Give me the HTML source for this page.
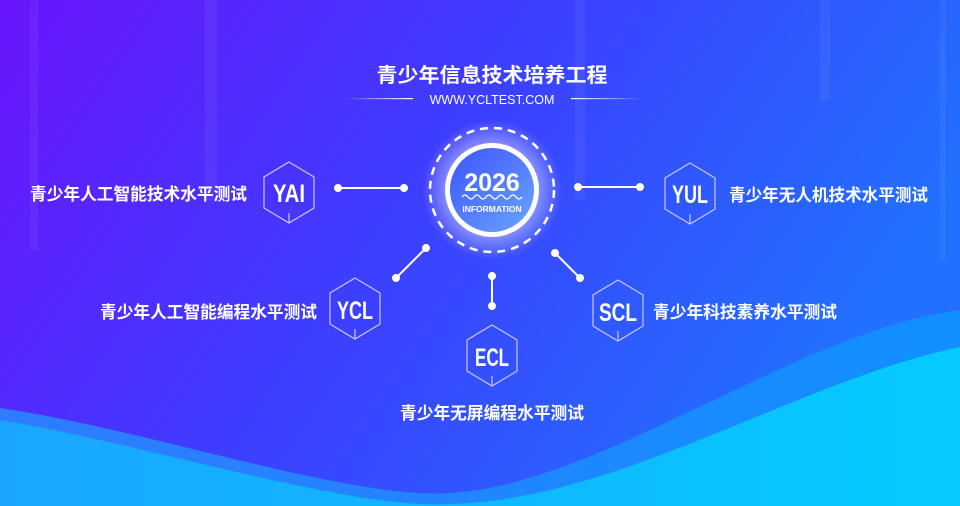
<!DOCTYPE html>
<html><head><meta charset="utf-8"><style>
html,body{margin:0;padding:0;width:960px;height:506px;overflow:hidden}
svg{display:block}
text{font-family:"Liberation Sans","Noto Sans CJK SC",sans-serif;fill:#fff}
</style></head><body>
<svg width="960" height="506" viewBox="0 0 960 506" xmlns="http://www.w3.org/2000/svg">
<defs>
<linearGradient id="bg" x1="0" y1="0" x2="1" y2="0.35">
<stop offset="0" stop-color="#6a14fb"/><stop offset="0.5" stop-color="#3d3eff"/><stop offset="1" stop-color="#2270ff"/>
</linearGradient>
<linearGradient id="w1" x1="0" y1="0" x2="1" y2="0">
<stop offset="0" stop-color="#2f7cff"/><stop offset="1" stop-color="#1190ff"/>
</linearGradient>
<linearGradient id="w2" x1="0" y1="0" x2="1" y2="0">
<stop offset="0" stop-color="#1aa6ff"/><stop offset="1" stop-color="#04cbff"/>
</linearGradient>
<radialGradient id="glow" cx="0.5" cy="0.5" r="0.5">
<stop offset="0.6" stop-color="#ffffff" stop-opacity="0.45"/><stop offset="1" stop-color="#ffffff" stop-opacity="0"/>
</radialGradient>
<linearGradient id="inner" x1="0" y1="0" x2="1" y2="1">
<stop offset="0" stop-color="#3d52ff"/><stop offset="1" stop-color="#6aa6ff"/>
</linearGradient>
<linearGradient id="ll" x1="0" x2="1"><stop offset="0" stop-color="#fff" stop-opacity="0"/><stop offset="1" stop-color="#fff"/></linearGradient>
<linearGradient id="lr" x1="0" x2="1"><stop offset="0" stop-color="#fff"/><stop offset="1" stop-color="#fff" stop-opacity="0"/></linearGradient>
</defs>
<rect width="960" height="506" fill="url(#bg)"/>
<g fill="#fff" opacity="0.05">
<rect x="205" y="0" width="12" height="200"/><rect x="575" y="0" width="10" height="200"/><rect x="820" y="0" width="10" height="100"/><rect x="30" y="0" width="8" height="250"/><rect x="940" y="0" width="6" height="260"/>
</g>
<path d="M0,408 C150,430 350,500 450,493 C600,485 800,330 960,310 L960,506 L0,506Z" fill="url(#w1)"/>
<path d="M0,420 C150,445 350,510 450,504 C620,500 800,380 960,347 L960,506 L0,506Z" fill="url(#w2)"/>
<text x="492" y="82" font-size="20" font-weight="bold" text-anchor="middle" textLength="231" lengthAdjust="spacingAndGlyphs">青少年信息技术培养工程</text>
<text x="492" y="104" font-size="12.5" text-anchor="middle">WWW.YCLTEST.COM</text>
<rect x="345" y="98" width="68" height="1.2" fill="url(#ll)"/>
<rect x="571" y="98" width="72" height="1.2" fill="url(#lr)"/>
<circle cx="492" cy="190" r="70" fill="url(#glow)"/>
<circle cx="492" cy="190" r="62" fill="none" stroke="#fff" stroke-width="2.5" stroke-dasharray="8 6"/>
<circle cx="492" cy="190" r="47" fill="#fff"/>
<circle cx="492" cy="190" r="42" fill="url(#inner)"/>
<text x="492" y="191" font-size="25" font-weight="bold" text-anchor="middle">2026</text>
<path d="M462,197 q3,-4 6,0 t6,0 t6,0 t6,0 t6,0 t6,0 t6,0 t6,0 t6,0 t6,0" fill="none" stroke="#fff" stroke-width="1.2"/>
<text x="492" y="212" font-size="8.5" font-weight="bold" text-anchor="middle">INFORMATION</text>
<g stroke="#fff" stroke-width="2" fill="#fff">
<line x1="338" y1="188" x2="404" y2="188"/><circle cx="338" cy="188" r="3"/><circle cx="404" cy="188" r="3"/>
<line x1="578" y1="187" x2="640" y2="187"/><circle cx="578" cy="187" r="3"/><circle cx="640" cy="187" r="3"/>
<line x1="396" y1="278" x2="426" y2="248"/><circle cx="396" cy="278" r="3"/><circle cx="426" cy="248" r="3"/>
<line x1="492" y1="276" x2="492" y2="306"/><circle cx="492" cy="276" r="3"/><circle cx="492" cy="306" r="3"/>
<line x1="555" y1="253" x2="580" y2="278"/><circle cx="555" cy="253" r="3"/><circle cx="580" cy="278" r="3"/>
</g>
<g fill="none" stroke="#c9c4ff" stroke-width="1.2">
<path d="M289,162 l25,15 v31 l-25,15 l-25,-15 v-31z M289,223 v-10"/>
<path d="M355,278 l25,15 v31 l-25,15 l-25,-15 v-31z M355,339 v-10"/>
<path d="M492,325 l25,15 v31 l-25,15 l-25,-15 v-31z M492,386 v-10"/>
<path d="M618,280 l25,15 v31 l-25,15 l-25,-15 v-31z M618,341 v-10"/>
<path d="M690,163 l25,15 v31 l-25,15 l-25,-15 v-31z M690,224 v-10"/>
</g>
<g font-size="25" font-weight="bold" text-anchor="middle">
<text x="289" y="202" textLength="32" lengthAdjust="spacingAndGlyphs">YAI</text>
<text x="355" y="319" textLength="36" lengthAdjust="spacingAndGlyphs">YCL</text>
<text x="492" y="366" textLength="34" lengthAdjust="spacingAndGlyphs">ECL</text>
<text x="618" y="321" textLength="38" lengthAdjust="spacingAndGlyphs">SCL</text>
<text x="690" y="203" textLength="36" lengthAdjust="spacingAndGlyphs">YUL</text>
</g>
<g font-size="17" font-weight="bold">
<text x="30" y="200" textLength="217" lengthAdjust="spacingAndGlyphs">青少年人工智能技术水平测试</text>
<text x="729" y="201" textLength="199" lengthAdjust="spacingAndGlyphs">青少年无人机技术水平测试</text>
<text x="100" y="318" textLength="217" lengthAdjust="spacingAndGlyphs">青少年人工智能编程水平测试</text>
<text x="653" y="318" textLength="184" lengthAdjust="spacingAndGlyphs">青少年科技素养水平测试</text>
<text x="400" y="419" textLength="184" lengthAdjust="spacingAndGlyphs">青少年无屏编程水平测试</text>
</g>
</svg>
</body></html>
